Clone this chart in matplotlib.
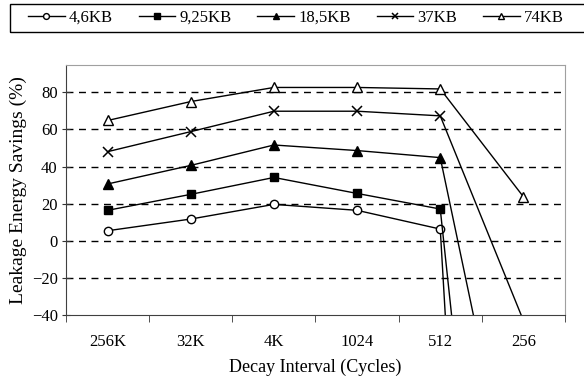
import matplotlib.pyplot as plt
from matplotlib.patches import Rectangle
import numpy as np

plt.rcParams['font.family'] = ['Liberation Serif', 'DejaVu Serif']

# datos
categorias = ['256K', '32K', '4K', '1024', '512', '256']
kb_4_6 = [5.4, 11.7, 19.6, 16.4, 6.3, -760]
kb_9_25 = [16.4, 25.0, 34.1, 25.5, 17.1, -402]
kb_18_5 = [30.6, 40.6, 51.6, 48.6, 44.8, -168]
kb_37 = [48.0, 58.8, 69.8, 69.8, 67.3, -43]
kb_74 = [64.8, 75.0, 82.6, 82.6, 81.8, 23.7]
etiquetas = ['4,6KB', '9,25KB', '18,5KB', '37KB', '74KB']

fig = plt.figure(figsize=(5.84, 3.89), dpi=100)
ax = fig.add_axes([66/584, 1-315/389, (565-66)/584, (315-65)/389])

x = np.arange(len(categorias))
series = [kb_4_6, kb_9_25, kb_18_5, kb_37, kb_74]
estilos = [dict(marker='o', mfc='white', ms=6),
           dict(marker='s', mfc='black', ms=6),
           dict(marker='^', mfc='black', ms=7),
           dict(marker='x', mfc='black', ms=7, mew=1.1),
           dict(marker='^', mfc='white', ms=7)]
for y, et, st in zip(series, etiquetas, estilos):
    ax.plot(x, y, color='black', lw=1, mec='black', label=et, **st)

ax.set_xlim(-0.5, 5.5)
ax.set_ylim(-40, 94.7)
ax.set_yticks([-40, -20, 0, 20, 40, 60, 80])
ax.set_xticks(x)
ax.set_xticklabels(categorias)
ax.set_xticks(np.arange(-0.5, 6, 1), minor=True)
ax.tick_params(axis='x', which='major', length=0, pad=14, labelsize=12)
ax.tick_params(axis='x', which='minor', length=5, direction='out', color='#333333')
ax.tick_params(axis='y', length=6, direction='inout', labelsize=12, color='#333333', pad=3)

for yy in [-20, 0, 20, 40, 60, 80]:
    ax.axhline(yy, color='black', lw=1, ls=(0, (5, 4)), zorder=0)

for s in ['left', 'bottom']:
    ax.spines[s].set_color('#404040')
for s in ['top', 'right']:
    ax.spines[s].set_color('#a0a0a0')

ax.set_xlabel('Decay Interval (Cycles)', fontsize=13, labelpad=6)
ax.set_ylabel('Leakage Energy Savings (%)', fontsize=14, labelpad=3)

# leyenda sin marco + rectangulo que se sale por la derecha
leg = fig.legend(loc='center left', bbox_to_anchor=(28/584, 1-18/389),
                 ncol=5, fontsize=12, markerscale=0.7, frameon=False,
                 borderaxespad=0, borderpad=0, handlelength=2.2,
                 handletextpad=0.25, columnspacing=1.55)
fig.patches.append(Rectangle((10/584, 1-32/389), 600/584, 28/389,
                             transform=fig.transFigure, fill=False,
                             edgecolor='black', lw=1))

fig.savefig('out.png', dpi=100)
